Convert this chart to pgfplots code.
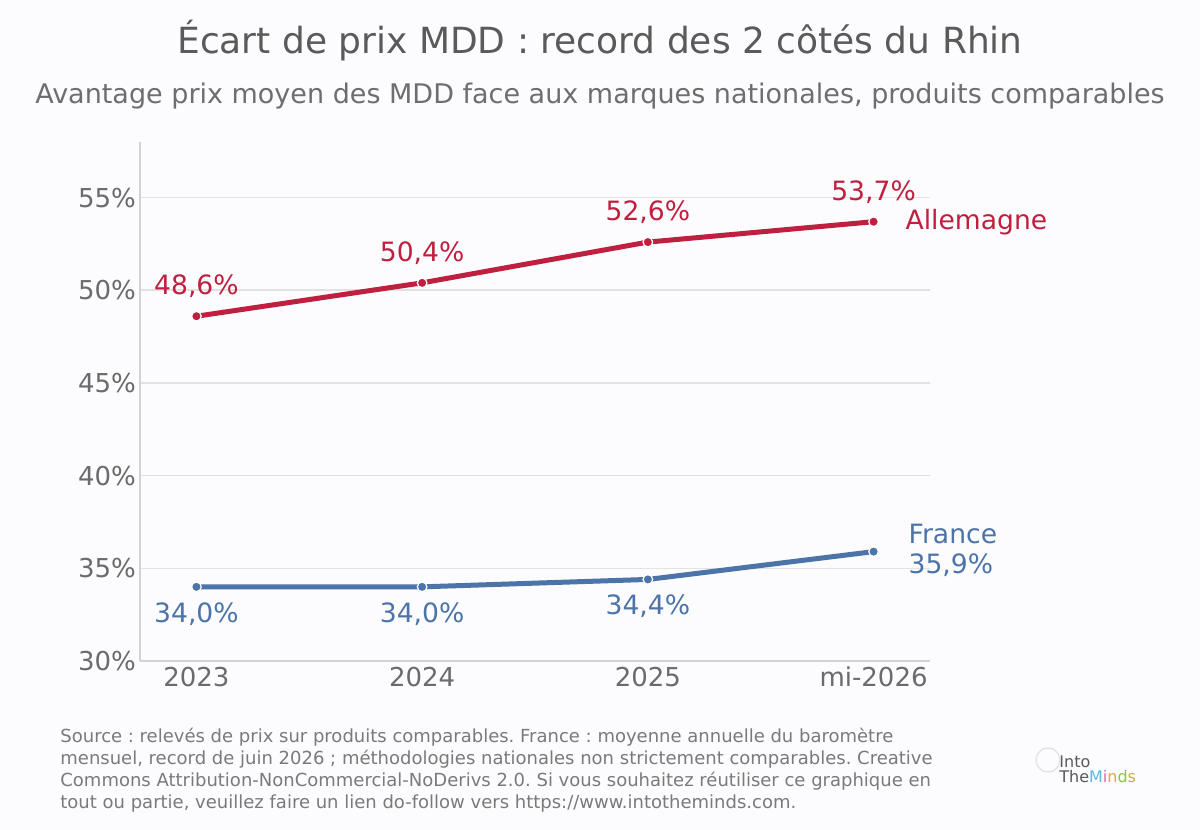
\documentclass[border=0pt]{standalone}
\usepackage{pgfplots}
\pgfplotsset{compat=1.18}
\usepackage{fontspec}
\setmainfont{DejaVu Sans}
\frenchspacing
\definecolor{bg}{HTML}{FCFBFD}
\definecolor{rouge}{HTML}{C0203F}
\definecolor{bleu}{HTML}{4C74A8}
\definecolor{titlegray}{HTML}{5A5A5A}
\definecolor{subgray}{HTML}{6E6E6E}
\definecolor{tickgray}{HTML}{6B6B6B}
\definecolor{srcgray}{HTML}{7A7A7A}
\definecolor{gridc}{HTML}{E2E2E2}
\definecolor{axisc}{HTML}{D2D2D2}
\begin{document}
\begin{tikzpicture}
\fill[bg] (0,0) rectangle (600pt,415pt);
\path[use as bounding box] (0,0) rectangle (600pt,415pt);
\node[titlegray,font=\fontsize{18}{21}\selectfont] at (300pt,394.5pt) {Écart de prix MDD : record des 2 côtés du Rhin};
\node[subgray,font=\fontsize{13.5}{15}\selectfont] at (300pt,367pt) {Avantage prix moyen des MDD face aux marques nationales, produits comparables};
\begin{axis}[
  at={(70pt,84.5pt)}, anchor=south west,
  scale only axis, width=395pt, height=259.5pt,
  xmin=-0.25, xmax=3.25, ymin=30, ymax=58,
  axis line style={axisc, line width=0.8pt},
  axis x line*=bottom, axis y line*=left,
  x axis line style={-}, y axis line style={-},
  xtick={0,1,2,3}, xticklabels={2023,2024,2025,mi-2026},
  ytick={30,35,40,45,50,55}, yticklabels={30\%,35\%,40\%,45\%,50\%,55\%},
  major tick length=0pt,
  ymajorgrids, grid style={gridc, line width=0.8pt},
  tick label style={tickgray, font=\fontsize{13}{15}\selectfont},
  xticklabel style={yshift=0.5pt},
  yticklabel style={xshift=1.5pt},
  clip=false,
]
\addplot[rouge, line width=2.5pt, mark=*, mark size=2.4pt, mark options={fill=rouge, draw=white, line width=0.6pt}]
  coordinates {(0,48.6) (1,50.4) (2,52.6) (3,53.7)};
\addplot[bleu, line width=2.5pt, mark=*, mark size=2.4pt, mark options={fill=bleu, draw=white, line width=0.6pt}]
  coordinates {(0,34.0) (1,34.0) (2,34.4) (3,35.9)};
\begin{scope}[font=\fontsize{13.3}{15}\selectfont]
\node[rouge] at (axis cs:0,48.6) [yshift=15pt] {48,6\%};
\node[rouge] at (axis cs:1,50.4) [yshift=15pt] {50,4\%};
\node[rouge] at (axis cs:2,52.6) [yshift=15pt] {52,6\%};
\node[rouge] at (axis cs:3,53.7) [yshift=15pt] {53,7\%};
\node[rouge, anchor=west] at (axis cs:3,53.7) [xshift=12.5pt] {Allemagne};
\node[bleu] at (axis cs:0,34.0) [yshift=-13.5pt] {34,0\%};
\node[bleu] at (axis cs:1,34.0) [yshift=-13.5pt] {34,0\%};
\node[bleu] at (axis cs:2,34.4) [yshift=-13.5pt] {34,4\%};
\node[bleu, anchor=west, align=left] at (axis cs:3,35.9) [xshift=14pt, yshift=0.5pt] {France\\35,9\%};
\end{scope}
\end{axis}
\node[srcgray, anchor=north west, align=left, font=\fontsize{9}{11}\selectfont, inner sep=0pt] at (30pt,51pt)
{Source : relevés de prix sur produits comparables. France : moyenne annuelle du baromètre\\
mensuel, record de juin 2026 ; méthodologies nationales non strictement comparables. Creative\\
Commons Attribution-NonCommercial-NoDerivs 2.0. Si vous souhaitez réutiliser ce graphique en\\
tout ou partie, veuillez faire un lien do-follow vers https://www.intotheminds.com.};
\node[anchor=west, inner sep=0pt, align=left, font=\fontsize{8}{7.5}\selectfont, text=titlegray] at (529.5pt,30.5pt)
{Into\\The{\color[HTML]{5BB8E0}M}{\color[HTML]{E36AA8}i}{\color[HTML]{F2A33A}n}{\color[HTML]{8CC63F}d}{\color[HTML]{C9B23A}s}};
\draw[color=gridc, line width=0.6pt] (524pt,35pt) circle (6pt);
\end{tikzpicture}
\end{document}
